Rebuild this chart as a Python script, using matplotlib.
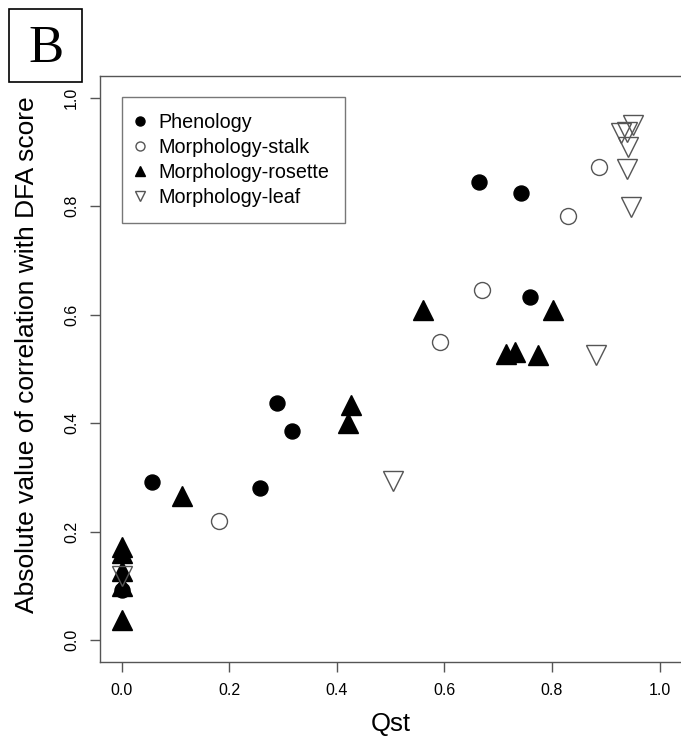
import matplotlib
matplotlib.use("Agg")
import matplotlib.pyplot as plt
from matplotlib.patches import Rectangle

# --- data -------------------------------------------------------------------
phen_x = [0.000, 0.056, 0.257, 0.288, 0.316, 0.664, 0.743, 0.759]
phen_y = [0.093, 0.291, 0.280, 0.438, 0.385, 0.844, 0.825, 0.632]

stalk_x = [0.181, 0.592, 0.669, 0.830, 0.887]
stalk_y = [0.220, 0.550, 0.645, 0.782, 0.873]

rosette_x = [0.000, 0.000, 0.000, 0.000, 0.000, 0.112, 0.421, 0.426,
             0.561, 0.714, 0.731, 0.773, 0.802]
rosette_y = [0.172, 0.160, 0.128, 0.100, 0.038, 0.266, 0.400, 0.433,
             0.609, 0.527, 0.531, 0.525, 0.608]

leaf_x = [0.000, 0.504, 0.882, 0.947, 0.939, 0.942, 0.929, 0.939, 0.951]
leaf_y = [0.118, 0.294, 0.525, 0.798, 0.869, 0.909, 0.935, 0.936, 0.949]

ticks = [0.0, 0.2, 0.4, 0.6, 0.8, 1.0]
tick_labels = ["0.0", "0.2", "0.4", "0.6", "0.8", "1.0"]

plt.rcParams['font.family'] = ['Liberation Sans', 'DejaVu Sans']

W, H = 681, 744
fig = plt.figure(figsize=(W / 100, H / 100), dpi=100)

# axes box: left 100px, top 76px, bottom 662px, right runs off the figure
ax = fig.add_axes([100 / W, (H - 662) / H, 581.2 / W, (662 - 76) / H])
ax.set_xlim(-0.04, 1.04)
ax.set_ylim(-0.04, 1.04)

grey = '#555555'
ax.plot(phen_x, phen_y, 'o', ms=10.8, color='black', mec='black', ls='none',
        label='Phenology')
ax.plot(stalk_x, stalk_y, 'o', ms=11.5, mfc='none', mec=grey, mew=1.0,
        ls='none', label='Morphology-stalk')
ax.plot(rosette_x, rosette_y, '^', ms=14, color='black', mec='black',
        ls='none', label='Morphology-rosette')
ax.plot(leaf_x, leaf_y, 'v', ms=14, mfc='none', mec=grey, mew=1.0,
        ls='none', label='Morphology-leaf')

ax.set_xticks(ticks)
ax.set_xticklabels(tick_labels)
ax.set_yticks(ticks)
ax.set_yticklabels(tick_labels, rotation=90, va='center')
ax.tick_params(axis='both', length=7, width=1.0, color=grey, labelsize=11.5,
               direction='out')
ax.tick_params(axis='x', pad=8)
ax.tick_params(axis='y', pad=8)

for side in ['left', 'bottom', 'top']:
    ax.spines[side].set_color(grey)
    ax.spines[side].set_linewidth(1.0)
ax.spines['right'].set_visible(False)

ax.set_xlabel('Qst', fontsize=18.5, labelpad=10)
ax.set_ylabel('Absolute value of correlation with DFA score', fontsize=19,
              va='center')
ax.yaxis.set_label_coords(-0.125, 0.525)

# legend with small symbols, as in base R
handles = [
    plt.Line2D([], [], marker='o', ls='none', color='black', ms=6.5),
    plt.Line2D([], [], marker='o', ls='none', mfc='none', mec=grey, ms=6.5),
    plt.Line2D([], [], marker='^', ls='none', color='black', ms=7.5),
    plt.Line2D([], [], marker='v', ls='none', mfc='none', mec=grey, ms=7.5),
]
labels = ['Phenology', 'Morphology-stalk', 'Morphology-rosette',
          'Morphology-leaf']
leg = ax.legend(handles, labels, loc='upper left',
                bbox_to_anchor=(121.7 / W, 1 - 97.3 / H),
                bbox_transform=fig.transFigure, fontsize=14.2,
                frameon=True, fancybox=False, shadow=False,
                borderpad=0.8, labelspacing=0.3, handlelength=0.25,
                handletextpad=0.8, borderaxespad=0.0)
leg.get_frame().set_edgecolor(grey)
leg.get_frame().set_linewidth(1.0)

# panel letter
fig.patches.append(Rectangle((9.3 / W, 1 - 81.7 / H), 72.4 / W, 72.4 / H,
                             transform=fig.transFigure, fill=False,
                             edgecolor='black', linewidth=1.2))
fig.text(46.5 / W, 1 - 48.5 / H, 'B', ha='center', va='center',
         fontsize=38, family='Liberation Serif')

fig.savefig('out.png', dpi=100)
